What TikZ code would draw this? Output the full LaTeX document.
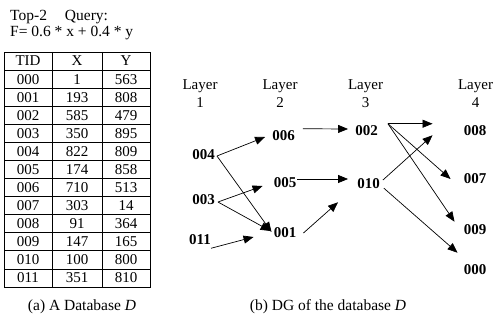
\documentclass[tikz,border=0pt]{standalone}
\usepackage{fontspec}
\setmainfont{Liberation Serif}
\usetikzlibrary{arrows.meta}

\begin{document}
\begin{tikzpicture}[x=1pt,y=-1pt,
 lbl/.style={inner sep=0pt,font=\fontsize{15}{18}\selectfont,align=center},
 cell/.style={inner sep=0pt,font=\fontsize{15}{18}\selectfont},
 tid/.style={inner sep=0pt,font=\fontsize{15}{18}\selectfont\bfseries},
 grd/.style={line width=.8pt},
 arr/.style={-{Triangle[length=10pt,width=8pt]},line width=.7pt}]
\useasboundingbox (0,0) rectangle (495,320);
% query
\node[lbl,align=left,anchor=north west,font=\fontsize{15.5}{16}\selectfont] (query) at (10,10)
 {Top-2\hspace{18pt}Query:\\F= 0.6 * x + 0.4 * y};
% database table
\draw[grd] (4,52) rectangle (150,287) (52,52) -- (52,287) (102,52) -- (102,287);
\foreach \r in {1,...,12} \draw[grd] (4,{52+18.08*\r}) -- (150,{52+18.08*\r});
\node[cell] (hTID) at (28,61) {TID};
\node[cell] (hX) at (77,61) {X};
\node[cell] (hY) at (126,61) {Y};
\foreach \t/\a/\b [count=\i] in {000/1/563,001/193/808,002/585/479,003/350/895,
  004/822/809,005/174/858,006/710/513,007/303/14,008/91/364,009/147/165,
  010/100/800,011/351/810}{
  \node[cell] (c\t) at (28,{52+18.08*(\i+.5)}) {\t};
  \node[cell] (x\t) at (77,{52+18.08*(\i+.5)}) {\a};
  \node[cell] (y\t) at (126,{52+18.08*(\i+.5)}) {\b};
}
\node[cell,anchor=base,font=\fontsize{15.5}{18}\selectfont] (capA) at (82,310) {(a) A Database \textit{D}};
% layers
\node[lbl] (layer1) at (200,94) {Layer\\1};
\node[lbl] (layer2) at (280,94) {Layer\\2};
\node[lbl] (layer3) at (365.5,94) {Layer\\3};
\node[lbl] (layer4) at (475.5,94) {Layer\\4};
% dominant graph
\node[tid] (n004) at (203.5,154.5) {004};
\node[tid] (n003) at (203.5,200) {003};
\node[tid] (n011) at (200,240) {011};
\node[tid] (n006) at (283.5,136) {006};
\node[tid] (n005) at (285,182.5) {005};
\node[tid] (n001) at (285,232.5) {001};
\node[tid] (n002) at (366.5,130.5) {002};
\node[tid] (n010) at (368.5,183.5) {010};
\node[tid] (n008) at (475,130.5) {008};
\node[tid] (n007) at (475,178.5) {007};
\node[tid] (n009) at (475,230) {009};
\node[tid] (n000) at (475,270) {000};
\draw[arr] ([shift={(2,1.5)}]n004.east) -- ([shift={(-7,1)}]n006.west);
\draw[arr] ([shift={(2,1.5)}]n004.east) -- ([shift={(-2,-.5)}]n001.west);
\draw[arr] ([shift={(3,2)}]n003.east) -- ([shift={(-11,3.5)}]n005.west);
\draw[arr] ([shift={(3,2)}]n003.east) -- ([shift={(-3,-1.5)}]n001.west);
\draw[arr] ([shift={(0,3)}]n011.south east) -- ([shift={(-20,4.5)}]n001.west);
\draw[arr] ([shift={(8,-2)}]n006.north east) -- ([shift={(-7,-1.5)}]n002.west);
\draw[arr] ([shift={(1,-3.5)}]n005.east) -- ([shift={(-9,-4.5)}]n010.west);
\draw[arr] ([shift={(7,.5)}]n001.east) -- ([shift={(-19,13.5)}]n010.south west);
\draw[arr] ([shift={(10,-1.5)}]n002.north east) -- ([shift={(-31,-1.5)}]n008.north west);
\draw[arr] ([shift={(10,-1.5)}]n002.north east) -- ([shift={(-13,.5)}]n007.west);
\draw[arr] ([shift={(10,-1.5)}]n002.north east) -- ([shift={(-9,-3)}]n009.north west);
\draw[arr] ([shift={(3,-3.5)}]n010.east) -- ([shift={(-31,-.5)}]n008.south west);
\draw[arr] ([shift={(4,-.5)}]n010.south east) -- ([shift={(-6,-12)}]n000.north west);
\node[cell,anchor=base,font=\fontsize{15.5}{18}\selectfont] (capB) at (328,310) {(b) DG of the database \textit{D}};
\end{tikzpicture}
\end{document}
